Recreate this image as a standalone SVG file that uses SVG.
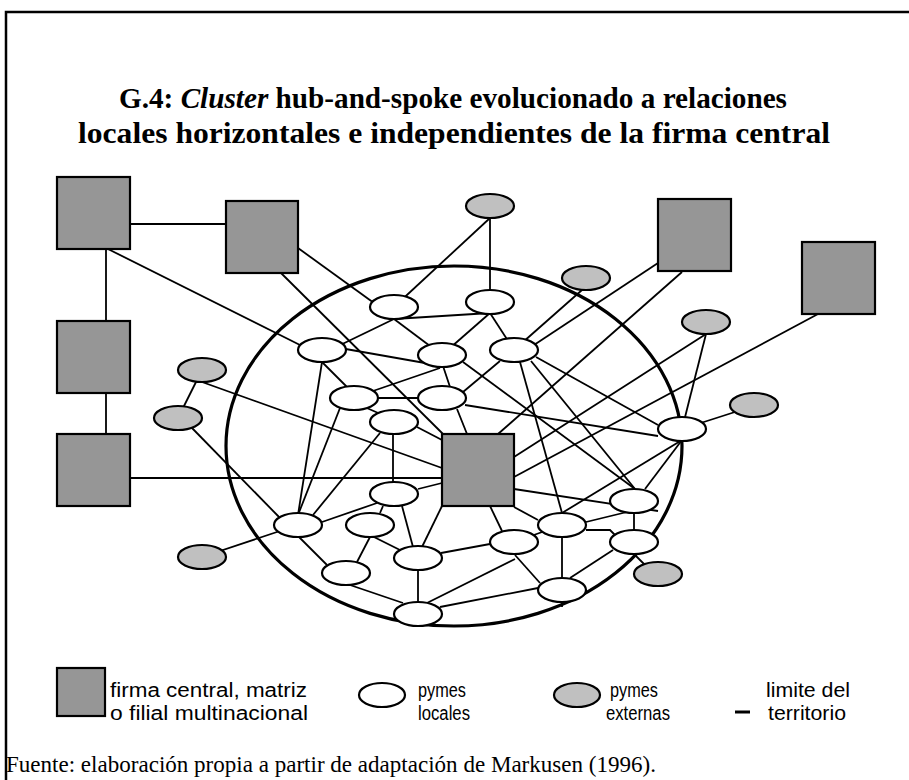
<svg xmlns="http://www.w3.org/2000/svg" width="909" height="780" viewBox="0 0 909 780">
<style>
.frame{fill:none;stroke:#000;stroke-width:2.5}
.title{font-family:"Liberation Serif","Times New Roman",serif;font-weight:bold;font-size:30px;fill:#000}
.leg{font-family:"Liberation Sans",Arial,sans-serif;font-size:20px;fill:#000}
.src{font-family:"Liberation Serif","Times New Roman",serif;font-size:23px;fill:#000}
.sq{fill:#969696;stroke:#000;stroke-width:2.2}
.loc{fill:#fff;stroke:#000;stroke-width:2.2}
.ext{fill:#c0c0c0;stroke:#000;stroke-width:2.2}
.terr{fill:none;stroke:#000;stroke-width:3.2}
#connectors line,#connectors polyline{stroke:#000;stroke-width:1.8;fill:none}
</style>
<rect width="909" height="780" fill="#fff"/>
<path class="frame" d="M6,780 V12 H909"/>
<text class="title" x="119" y="108" textLength="668" lengthAdjust="spacingAndGlyphs">G.4: <tspan font-style="italic">Cluster</tspan> hub-and-spoke evolucionado a relaciones</text>
<text class="title" x="78" y="143" textLength="752" lengthAdjust="spacingAndGlyphs">locales horizontales e independientes de la firma central</text>

<ellipse id="territorio" class="terr" cx="454" cy="446" rx="228" ry="180"/>

<g id="connectors">
<line x1="130" y1="224" x2="226" y2="224"/>
<line x1="106" y1="249" x2="106" y2="321"/>
<line x1="106" y1="393" x2="106" y2="434"/>
<line x1="106" y1="248" x2="300" y2="345"/>
<line x1="130" y1="478" x2="442" y2="478"/>
<line x1="298" y1="248" x2="374" y2="303"/>
<line x1="281" y1="273" x2="443" y2="434"/>
<line x1="658" y1="263" x2="534" y2="345"/>
<line x1="682" y1="272" x2="498" y2="434"/>
<line x1="818" y1="314" x2="514" y2="477"/>
<line x1="706" y1="334" x2="514" y2="457"/>
<line x1="706" y1="334" x2="682" y2="429"/>
<line x1="735" y1="412" x2="682" y2="429"/>
<line x1="490" y1="218" x2="394" y2="307"/>
<line x1="490" y1="218" x2="490" y2="302"/>
<line x1="582" y1="290" x2="514" y2="350"/>
<line x1="394" y1="319" x2="490" y2="313"/>
<line x1="394" y1="319" x2="330" y2="350"/>
<line x1="394" y1="319" x2="442" y2="355"/>
<line x1="490" y1="313" x2="442" y2="355"/>
<line x1="490" y1="313" x2="514" y2="350"/>
<line x1="340" y1="348" x2="425" y2="363"/>
<line x1="320" y1="360" x2="352" y2="392"/>
<line x1="322" y1="362" x2="298" y2="515"/>
<line x1="440" y1="368" x2="370" y2="392"/>
<line x1="443" y1="366" x2="450" y2="387"/>
<line x1="500" y1="361" x2="463" y2="392"/>
<line x1="378" y1="398" x2="418" y2="398"/>
<line x1="360" y1="405" x2="385" y2="416"/>
<line x1="340" y1="408" x2="298" y2="515"/>
<line x1="380" y1="433" x2="313" y2="515"/>
<line x1="393" y1="434" x2="393" y2="482"/>
<line x1="417" y1="427" x2="442" y2="440"/>
<line x1="202" y1="382" x2="442" y2="468"/>
<line x1="202" y1="370" x2="178" y2="418"/>
<line x1="192" y1="428" x2="280" y2="518"/>
<line x1="202" y1="557" x2="298" y2="525"/>
<line x1="418" y1="489" x2="442" y2="483"/>
<line x1="377" y1="503" x2="322" y2="522"/>
<line x1="383" y1="506" x2="380" y2="513"/>
<line x1="402" y1="506" x2="413" y2="547"/>
<line x1="442" y1="506" x2="422" y2="547"/>
<line x1="490" y1="506" x2="502" y2="531"/>
<line x1="514" y1="507" x2="538" y2="520"/>
<line x1="514" y1="489" x2="658" y2="511"/>
<line x1="299" y1="537" x2="327" y2="565"/>
<line x1="370" y1="537" x2="357" y2="562"/>
<line x1="370" y1="535" x2="400" y2="550"/>
<line x1="418" y1="570" x2="418" y2="602"/>
<line x1="350" y1="585" x2="403" y2="603"/>
<line x1="441" y1="553" x2="490" y2="544"/>
<line x1="427" y1="603" x2="515" y2="559"/>
<line x1="440" y1="607" x2="538" y2="588"/>
<line x1="514" y1="542" x2="562" y2="525"/>
<line x1="515" y1="555" x2="540" y2="583"/>
<line x1="562" y1="537" x2="562" y2="607"/>
<polyline points="586,530 610,530 615,535"/>
<line x1="586" y1="522" x2="627" y2="512"/>
<line x1="634" y1="512" x2="634" y2="531"/>
<line x1="570" y1="578" x2="613" y2="550"/>
<line x1="635" y1="555" x2="647" y2="567"/>
<line x1="520" y1="362" x2="562" y2="513"/>
<line x1="531" y1="361" x2="635" y2="489"/>
<line x1="536" y1="357" x2="658" y2="425"/>
<line x1="463" y1="362" x2="635" y2="489"/>
<line x1="465" y1="405" x2="658" y2="436"/>
<line x1="457" y1="409" x2="467" y2="434"/>
<line x1="682" y1="440" x2="562" y2="513"/>
<line x1="682" y1="440" x2="645" y2="489"/>
</g>

<g id="S1"><rect class="sq" x="57" y="177" width="73" height="72"/></g>
<g id="S2"><rect class="sq" x="226" y="201" width="72" height="72"/></g>
<g id="S3"><rect class="sq" x="57" y="321" width="73" height="72"/></g>
<g id="S4"><rect class="sq" x="57" y="434" width="73" height="72"/></g>
<g id="S5"><rect class="sq" x="442" y="434" width="72" height="72"/></g>
<g id="S6"><rect class="sq" x="658" y="199" width="73" height="72"/></g>
<g id="S7"><rect class="sq" x="802" y="242" width="73" height="72"/></g>

<g id="G1"><ellipse class="ext" cx="490" cy="206" rx="24" ry="12"/></g>
<g id="G2"><ellipse class="ext" cx="586" cy="278" rx="24" ry="12"/></g>
<g id="G3"><ellipse class="ext" cx="706" cy="322" rx="24" ry="12"/></g>
<g id="G4"><ellipse class="ext" cx="754" cy="405" rx="24" ry="12"/></g>
<g id="G5"><ellipse class="ext" cx="202" cy="370" rx="24" ry="12"/></g>
<g id="G6"><ellipse class="ext" cx="178" cy="418" rx="24" ry="12"/></g>
<g id="G7"><ellipse class="ext" cx="202" cy="557" rx="24" ry="12"/></g>
<g id="G8"><ellipse class="ext" cx="658" cy="574" rx="24" ry="12"/></g>

<g id="W1"><ellipse class="loc" cx="394" cy="307" rx="24" ry="12"/></g>
<g id="W2"><ellipse class="loc" cx="490" cy="302" rx="24" ry="12"/></g>
<g id="W3"><ellipse class="loc" cx="322" cy="350" rx="24" ry="12"/></g>
<g id="W4"><ellipse class="loc" cx="442" cy="355" rx="24" ry="12"/></g>
<g id="W5"><ellipse class="loc" cx="514" cy="350" rx="24" ry="12"/></g>
<g id="W6"><ellipse class="loc" cx="354" cy="398" rx="24" ry="12"/></g>
<g id="W7"><ellipse class="loc" cx="442" cy="398" rx="24" ry="12"/></g>
<g id="W8"><ellipse class="loc" cx="394" cy="422" rx="24" ry="12"/></g>
<g id="W9"><ellipse class="loc" cx="682" cy="429" rx="24" ry="12"/></g>
<g id="W10"><ellipse class="loc" cx="394" cy="494" rx="24" ry="12"/></g>
<g id="W11"><ellipse class="loc" cx="298" cy="525" rx="24" ry="12"/></g>
<g id="W12"><ellipse class="loc" cx="370" cy="525" rx="24" ry="12"/></g>
<g id="W13"><ellipse class="loc" cx="418" cy="558" rx="24" ry="12"/></g>
<g id="W14"><ellipse class="loc" cx="346" cy="573" rx="24" ry="12"/></g>
<g id="W15"><ellipse class="loc" cx="418" cy="614" rx="24" ry="12"/></g>
<g id="W16"><ellipse class="loc" cx="514" cy="542" rx="24" ry="12"/></g>
<g id="W17"><ellipse class="loc" cx="562" cy="525" rx="24" ry="12"/></g>
<g id="W18"><ellipse class="loc" cx="634" cy="501" rx="24" ry="12"/></g>
<g id="W19"><ellipse class="loc" cx="634" cy="542" rx="24" ry="12"/></g>
<g id="W20"><ellipse class="loc" cx="562" cy="590" rx="24" ry="12"/></g>

<g id="legend">
<rect class="sq" x="57" y="668" width="48" height="48"/>
<text class="leg" x="110" y="697" textLength="197" lengthAdjust="spacingAndGlyphs">firma central, matriz</text>
<text class="leg" x="110" y="720" textLength="198" lengthAdjust="spacingAndGlyphs">o filial multinacional</text>
<ellipse class="loc" cx="382" cy="695" rx="23" ry="12"/>
<text class="leg" x="418" y="697" textLength="48" lengthAdjust="spacingAndGlyphs">pymes</text>
<text class="leg" x="418" y="720" textLength="52" lengthAdjust="spacingAndGlyphs">locales</text>
<ellipse class="ext" cx="577" cy="695" rx="23" ry="12"/>
<text class="leg" x="610" y="697" textLength="48" lengthAdjust="spacingAndGlyphs">pymes</text>
<text class="leg" x="606" y="720" textLength="64" lengthAdjust="spacingAndGlyphs">externas</text>
<line x1="735" y1="712" x2="750" y2="712" stroke="#000" stroke-width="3"/>
<text class="leg" x="766" y="697" textLength="84" lengthAdjust="spacingAndGlyphs">limite del</text>
<text class="leg" x="768" y="720" textLength="78" lengthAdjust="spacingAndGlyphs">territorio</text>
</g>
<text class="src" x="6" y="772" textLength="650" lengthAdjust="spacingAndGlyphs">Fuente: elaboración propia a partir de adaptación de Markusen (1996).</text>
</svg>
